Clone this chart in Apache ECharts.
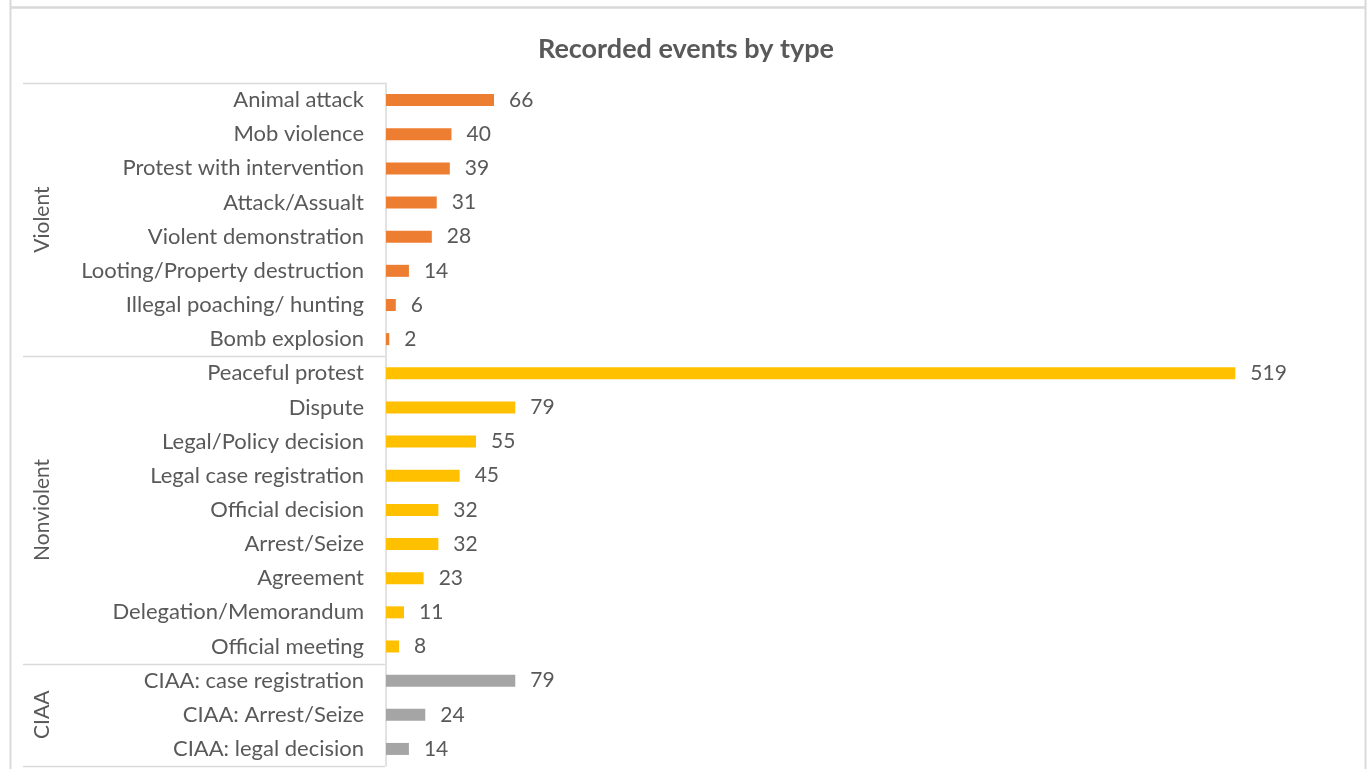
<!DOCTYPE html>
<html>
<head>
<meta charset="utf-8">
<script src="https://cdn.jsdelivr.net/npm/echarts@6/dist/echarts.min.js"></script>
<style>
  html, body { margin: 0; padding: 0; background: #fff; }
  #chart { width: 1372px; height: 769px; }
</style>
</head>
<body>
<div id="chart"></div>
<script>
// Event categories, top to bottom
const categories = [
  'Animal attack', 'Mob violence', 'Protest with intervention', 'Attack/Assualt',
  'Violent demonstration', 'Looting/Property destruction', 'Illegal poaching/ hunting', 'Bomb explosion',
  'Peaceful protest', 'Dispute', 'Legal/Policy decision', 'Legal case registration',
  'Official decision', 'Arrest/Seize', 'Agreement', 'Delegation/Memorandum', 'Official meeting',
  'CIAA: case registration', 'CIAA: Arrest/Seize', 'CIAA: legal decision'
];
const counts = [66, 40, 39, 31, 28, 14, 6, 2, 519, 79, 55, 45, 32, 32, 23, 11, 8, 79, 24, 14];
// Group of each category (index into groupNames)
const groupOf = [0, 0, 0, 0, 0, 0, 0, 0, 1, 1, 1, 1, 1, 1, 1, 1, 1, 2, 2, 2];
const groupNames = ['Violent', 'Nonviolent', 'CIAA'];
const groupColors = ['#ED7D31', '#FFC000', '#A5A5A5'];

const FONT = 'Lato';
const TEXT = '#595959';
const RULE = '#d9d9d9';

const chart = echarts.init(document.getElementById('chart'), null, { renderer: 'canvas' });

chart.setOption({
  animation: false,
  backgroundColor: '#fff',
  textStyle: { fontFamily: FONT },
  title: {
    text: 'Recorded events by type',
    left: 'center',
    top: 31,
    textStyle: { fontFamily: FONT, fontSize: 27, fontWeight: 'bold', color: TEXT }
  },
  grid: { left: 386, top: 83, width: 900, bottom: 3, containLabel: false },
  xAxis: {
    type: 'value', min: 0, max: 550, show: false
  },
  yAxis: {
    type: 'category',
    data: categories,
    inverse: true,
    axisLine: { show: true, lineStyle: { color: RULE, width: 1.5 } },
    axisTick: { show: false },
    axisLabel: { color: TEXT, fontSize: 22, fontFamily: FONT, margin: 22 },
    splitLine: { show: false }
  },
  series: [{
    type: 'bar',
    barWidth: 12,
    data: counts.map((v, i) => ({ value: v, itemStyle: { color: groupColors[groupOf[i]] } })),
    label: {
      show: true, position: 'right', distance: 15,
      color: TEXT, fontSize: 21, fontFamily: FONT
    }
  }]
});

// Group dividers and rotated group names, placed from the category axis
function drawGroups() {
  const band = chart.convertToPixel({ yAxisIndex: 0 }, 1) - chart.convertToPixel({ yAxisIndex: 0 }, 0);
  const edgeY = i => chart.convertToPixel({ yAxisIndex: 0 }, i) - band / 2;
  const axisX = chart.convertToPixel({ xAxisIndex: 0 }, 0) - 1;
  const elements = [];
  // outer frame
  elements.push({ type: 'line', shape: { x1: 10, y1: 7.5, x2: 1366, y2: 7.5 }, style: { stroke: RULE, lineWidth: 2.5 } });
  elements.push({ type: 'line', shape: { x1: 10.5, y1: 0, x2: 10.5, y2: 769 }, style: { stroke: RULE, lineWidth: 2 } });
  elements.push({ type: 'line', shape: { x1: 1365.5, y1: 0, x2: 1365.5, y2: 769 }, style: { stroke: RULE, lineWidth: 2 } });

  const bounds = [];
  groupNames.forEach((name, g) => {
    const idx = groupOf.map((x, i) => x === g ? i : -1).filter(i => i >= 0);
    const y0 = edgeY(idx[0]);
    const y1 = edgeY(idx[idx.length - 1] + 1);
    bounds.push(y0);
    if (g === groupNames.length - 1) bounds.push(y1);
    elements.push({
      type: 'text',
      x: 42, y: (y0 + y1) / 2,
      rotation: Math.PI / 2,
      style: { text: name, fill: TEXT, font: '21px ' + FONT, textAlign: 'center', textVerticalAlign: 'middle' }
    });
  });
  bounds.forEach(y => {
    const yy = Math.round(y) + 0.5;
    elements.push({ type: 'line', shape: { x1: 23, y1: yy, x2: axisX, y2: yy }, style: { stroke: RULE, lineWidth: 1.5 } });
  });
  chart.setOption({ graphic: { elements } });
}
drawGroups();
</script>
</body>
</html>
